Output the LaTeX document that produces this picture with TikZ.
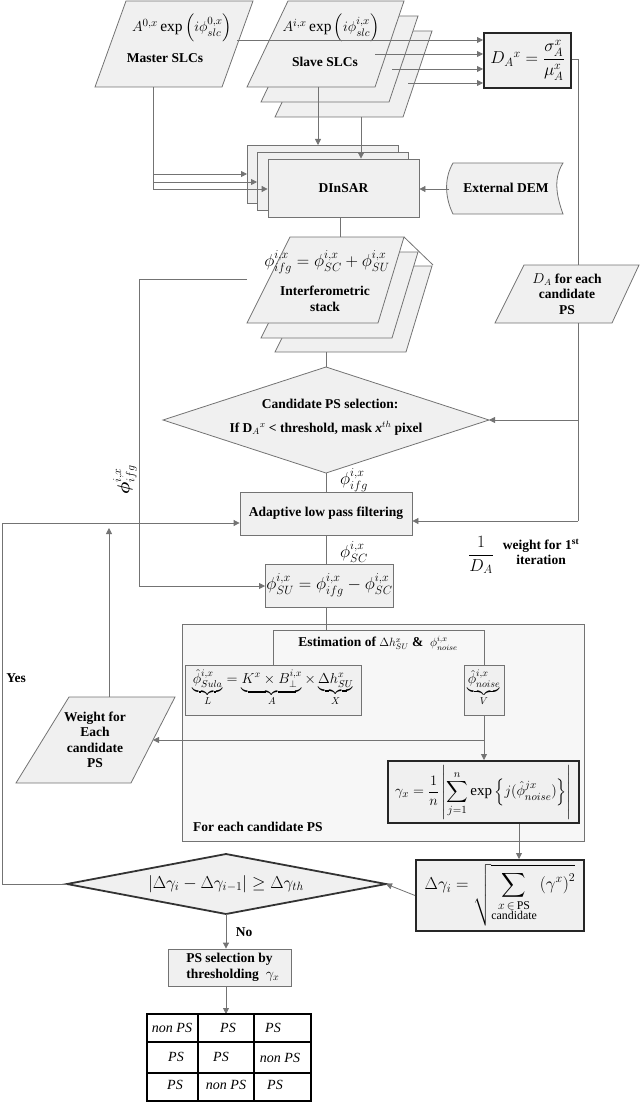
\documentclass[tikz,border=0pt]{standalone}
\usepackage{amsmath}
\usepackage{amssymb}
\usepackage{fontspec}
\setmainfont{Liberation Serif}
\usetikzlibrary{arrows.meta}
\tikzset{
  ln/.style={draw=black!55,line width=0.8pt},
  arr/.style={ln,-{Triangle[length=6pt,width=6pt]}},
  box/.style={ln,fill=black!6,inner sep=2pt},
  thick box/.style={draw=black!85,line width=2pt,fill=black!6},
  txt/.style={font=\fontsize{13.5}{15.5}\selectfont\bfseries,align=center,inner sep=1pt},
  mth/.style={font=\fontsize{17}{20}\selectfont,inner sep=1pt},
  cell/.style={font=\fontsize{14}{16}\selectfont\itshape,inner sep=0pt}
}
\begin{document}
\begin{tikzpicture}[x=1pt,y=-1pt]
\useasboundingbox (0,0) rectangle (640,1102);

% master SLCs
\draw[box] (126,1) -- (253,1) -- (222,87) -- (95,87) -- cycle;
\node[mth,font=\fontsize{15.5}{18}\selectfont] (mf) at (182,28) {$A^{0,x}\exp\left(i\phi^{0,x}_{slc}\right)$};
\node[txt] (ml) at (165,58) {Master SLCs};
% slave SLCs
\foreach \d/\e in {28/30,14/15,0/0}
  \draw[box] (288+\d,1+\e) -- (404+\d,1+\e) -- (375+\d,87+\e) -- (247+\d,87+\e) -- cycle;
\node[mth,font=\fontsize{15.5}{18}\selectfont] (sf) at (331,28) {$A^{i,x}\exp\left(i\phi^{i,x}_{slc}\right)$};
\node[txt] (sl) at (325,62) {Slave SLCs};

% D_A box
\node[thick box,minimum width=87pt,minimum height=55pt,mth] (da) at (527.5,60.5)
  {$D_A{}^{x}=\dfrac{\sigma_A^x}{\mu_A^x}$};
\coordinate (m1) at (237,40);
\coordinate (s1) at (375,54);
\coordinate (s2) at (392,69);
\coordinate (s3) at (408,83);
\draw[arr] (m1) -- (m1 -| da.west);
\draw[arr] (s1) -- (s1 -| da.west);
\draw[arr] (s2) -- (s2 -| da.west);
\draw[arr] (s3) -- (s3 -| da.west);

% DInSAR
\draw[box] (247,145) rectangle (398,203);
\draw[box] (257,152) rectangle (408,210);
\node[box,minimum width=151pt,minimum height=58pt] (dinsar) at (343.5,188) {};
\node[txt] at (dinsar) {DInSAR};
\coordinate (sa) at (318,87);
\coordinate (sb) at (361,117);
\draw[arr] (sa) -- (318,145);
\draw[arr] (sb) -- (sb |- dinsar.north);
\coordinate (mb) at (153,87);
\draw[ln] (mb) -- (153,189);
\draw[arr] (153,174) -- (247,174);
\draw[arr] (153,182) -- (257,182);
\draw[arr] (153,189) -- (dinsar.west |- 0,189);

% External DEM
\draw[box] (453,163) -- (563,163) .. controls (552,180) and (558,200) .. (563,214)
  -- (453,214) .. controls (446,200) and (443,180) .. (453,163) -- cycle;
\node[txt] (dem) at (506,188) {External DEM};
\draw[arr] (449,189) -- (dinsar.east |- 0,189);

% interferometric stack
\foreach \d/\e in {28/29,14/15}
  \draw[box] (290+\d,237+\e) -- (404+\d,237+\e) -- (378+\d,323+\e) -- (247+\d,323+\e) -- cycle;
\draw[ln] (404,237) -- (433,265);
\draw[box] (290,237) -- (404,237) -- (378,323) -- (247,323) -- cycle;
\node[mth] (ifs) at (327,262) {$\phi^{i,x}_{ifg}=\phi^{i,x}_{SC}+\phi^{i,x}_{SU}$};
\node[txt] at (325,299) {Interferometric\\stack};
\draw[ln] (dinsar.south -| 340,0) -- (340,237);

% candidate diamond
\coordinate (dt) at (326,367);
\draw[box] (163,420) -- (dt) -- (489,420) -- (326,473) -- cycle;
\coordinate (dl) at (163,420);
\coordinate (dr) at (489,420);
\coordinate (db) at (326,473);
\node[txt] at (330,404) {Candidate PS selection:};
\node[txt] at (326,428) {If D$_A{}^x$ < threshold, mask \textit{x}$^{th}$ pixel};
\draw[ln] (326,352) -- (dt);

% D_A for each candidate PS
\draw[box] (524,265) -- (639,265) -- (612,323) -- (495,323) -- cycle;
\node[txt] at (567,294) {$D_A$ for each\\candidate\\PS};
\draw[ln] (da.east |- 0,59) -- (578,59) -- (578,265);
\draw[ln] (578,323) -- (578,521);
\draw[arr] (578,420) -- (dr);

% filtering
\node[box,minimum width=172pt,minimum height=43pt] (flt) at (326,513.5) {};
\node[txt] at (flt) {Adaptive low pass filtering};
\draw[ln] (db) -- (flt.north -| db);
\node[mth] at (354,480) {$\phi^{i,x}_{ifg}$};
\draw[arr] (578,521) -- (flt.east |- 0,521);

% SU box
\node[box,minimum width=123pt,minimum height=43pt,mth] (su) at (329.5,585.5)
  {$\phi^{i,x}_{SU}=\phi^{i,x}_{ifg}-\phi^{i,x}_{SC}$};
\draw[ln] (flt.south -| 326,0) -- (su.north -| 326,0);
\node[mth] at (354,552) {$\phi^{i,x}_{SC}$};
\draw[ln] (247,279) -- (139,279) -- (139,586);
\draw[arr] (139,586) -- (su.west |- 0,586);
\node[rotate=90,mth] at (125,480) {$\boldsymbol{\phi}^{i,x}_{ifg}$};

% 1/D_A label
\node[font=\fontsize{18}{20}\selectfont] at (481,555) {$\dfrac{1}{D_A}$};
\node[txt] at (541,552) {weight for 1$^{\text{st}}$\\iteration};

% big box
\draw[ln,fill=black!3] (182,624) rectangle (584,841);
\node[txt,anchor=west] at (192,827) {For each candidate PS};
\draw[ln] (su.south -| 326,0) -- (326,630);
\node[txt] (est) at (378,643) {Estimation of {\large$\Delta h^x_{SU}$} \& \ {\large$\phi^{i,x}_{noise}$}};
\draw[ln] (273,665) -- (273,630) -- (484,630) -- (484,665);
\node[box,minimum width=176pt,minimum height=50pt] (lax) at (273,690) {};
\node[font=\fontsize{14}{16}\selectfont] at (273,688) {$\underbrace{\hat\phi^{i,x}_{Sula}}_{L}=\underbrace{K^x\times B^{i,x}_{\perp}}_{A}\times\underbrace{\Delta h^x_{SU}}_{X}$};
\node[box,minimum width=40pt,minimum height=50pt] (v) at (484,690) {};
\node[font=\fontsize{14}{16}\selectfont] at (484,688) {$\underbrace{\hat\phi^{i,x}_{noise}}_{V}$};

% weight parallelogram
\draw[box] (69,697) -- (175,697) -- (131,783) -- (16,783) -- cycle;
\node[txt] (wt) at (95,740) {Weight for\\Each\\candidate\\PS};
\draw[ln] (v.south) -- (484,740);
\draw[arr] (484,740) -- (153,740);

% gamma box
\node[thick box,minimum width=191pt,minimum height=62pt,font=\fontsize{15}{18}\selectfont,inner sep=1pt] (gam) at (483.5,792)
  {$\gamma_x=\dfrac{1}{n}\left|\displaystyle\sum_{j=1}^{n}\exp\left\{j(\hat\phi^{jx}_{noise})\right\}\right|$};
\draw[arr] (484,740) -- (gam.north -| 484,0);

% delta gamma box
\node[thick box,minimum width=168pt,minimum height=71pt,mth] (dg) at (500,895.5)
  {$\Delta\gamma_i=\sqrt{\displaystyle\sum_{\substack{x\,\in\,\text{PS}\\ \text{candidate}}}\left(\gamma^x\right)^2}$};
\draw[arr] (gam.south -| 519,0) -- (dg.north -| 519,0);

% diamond 2
\coordinate (el) at (67,884);
\coordinate (er) at (386,884);
\coordinate (et) at (226,854);
\coordinate (eb) at (226,914);
\draw[draw=black!80,line width=1.8pt,fill=black!6] (el) -- (et) -- (er) -- (eb) -- cycle;
\node[mth] at (226,884) {$\left|\Delta\gamma_i-\Delta\gamma_{i-1}\right|\geq\Delta\gamma_{th}$};
\draw[arr] (dg.west) -- (er);

% yes loop
\draw[ln] (el) -- (2,884) -- (2,523);
\draw[arr] (2,523) -- (flt.west |- 0,523);
\node[txt] at (16,678) {Yes};
\draw[arr] (109,697) -- (109,528);

% PS selection
\node[box,minimum width=123pt,minimum height=37pt] (sel) at (229.5,967.5) {};
\node[txt] at (sel) {PS selection by\\\ \ thresholding \ {\Large$\gamma_x$}};
\draw[arr] (eb) -- (sel.north -| eb);
\node[txt] at (244,932) {No};

% table
\draw[arr] (sel.south -| 226,0) -- (226,1014);
\draw[line width=2pt] (147,1014) rectangle (311,1101);
\draw[line width=2pt] (147,1042) -- (311,1042) (147,1073) -- (311,1073)
  (198,1014) -- (198,1101) (254,1014) -- (254,1101);
\node[cell] (c11) at (172,1028) {non PS};
\node[cell] (c12) at (228,1028) {PS};
\node[cell] (c13) at (273,1028) {PS};
\node[cell] (c21) at (176,1057) {PS};
\node[cell] (c22) at (221,1057) {PS};
\node[cell] (c23) at (280,1058) {non PS};
\node[cell] (c31) at (175,1085) {PS};
\node[cell] (c32) at (226,1085) {non PS};
\node[cell] (c33) at (275,1085) {PS};
\end{tikzpicture}
\end{document}
